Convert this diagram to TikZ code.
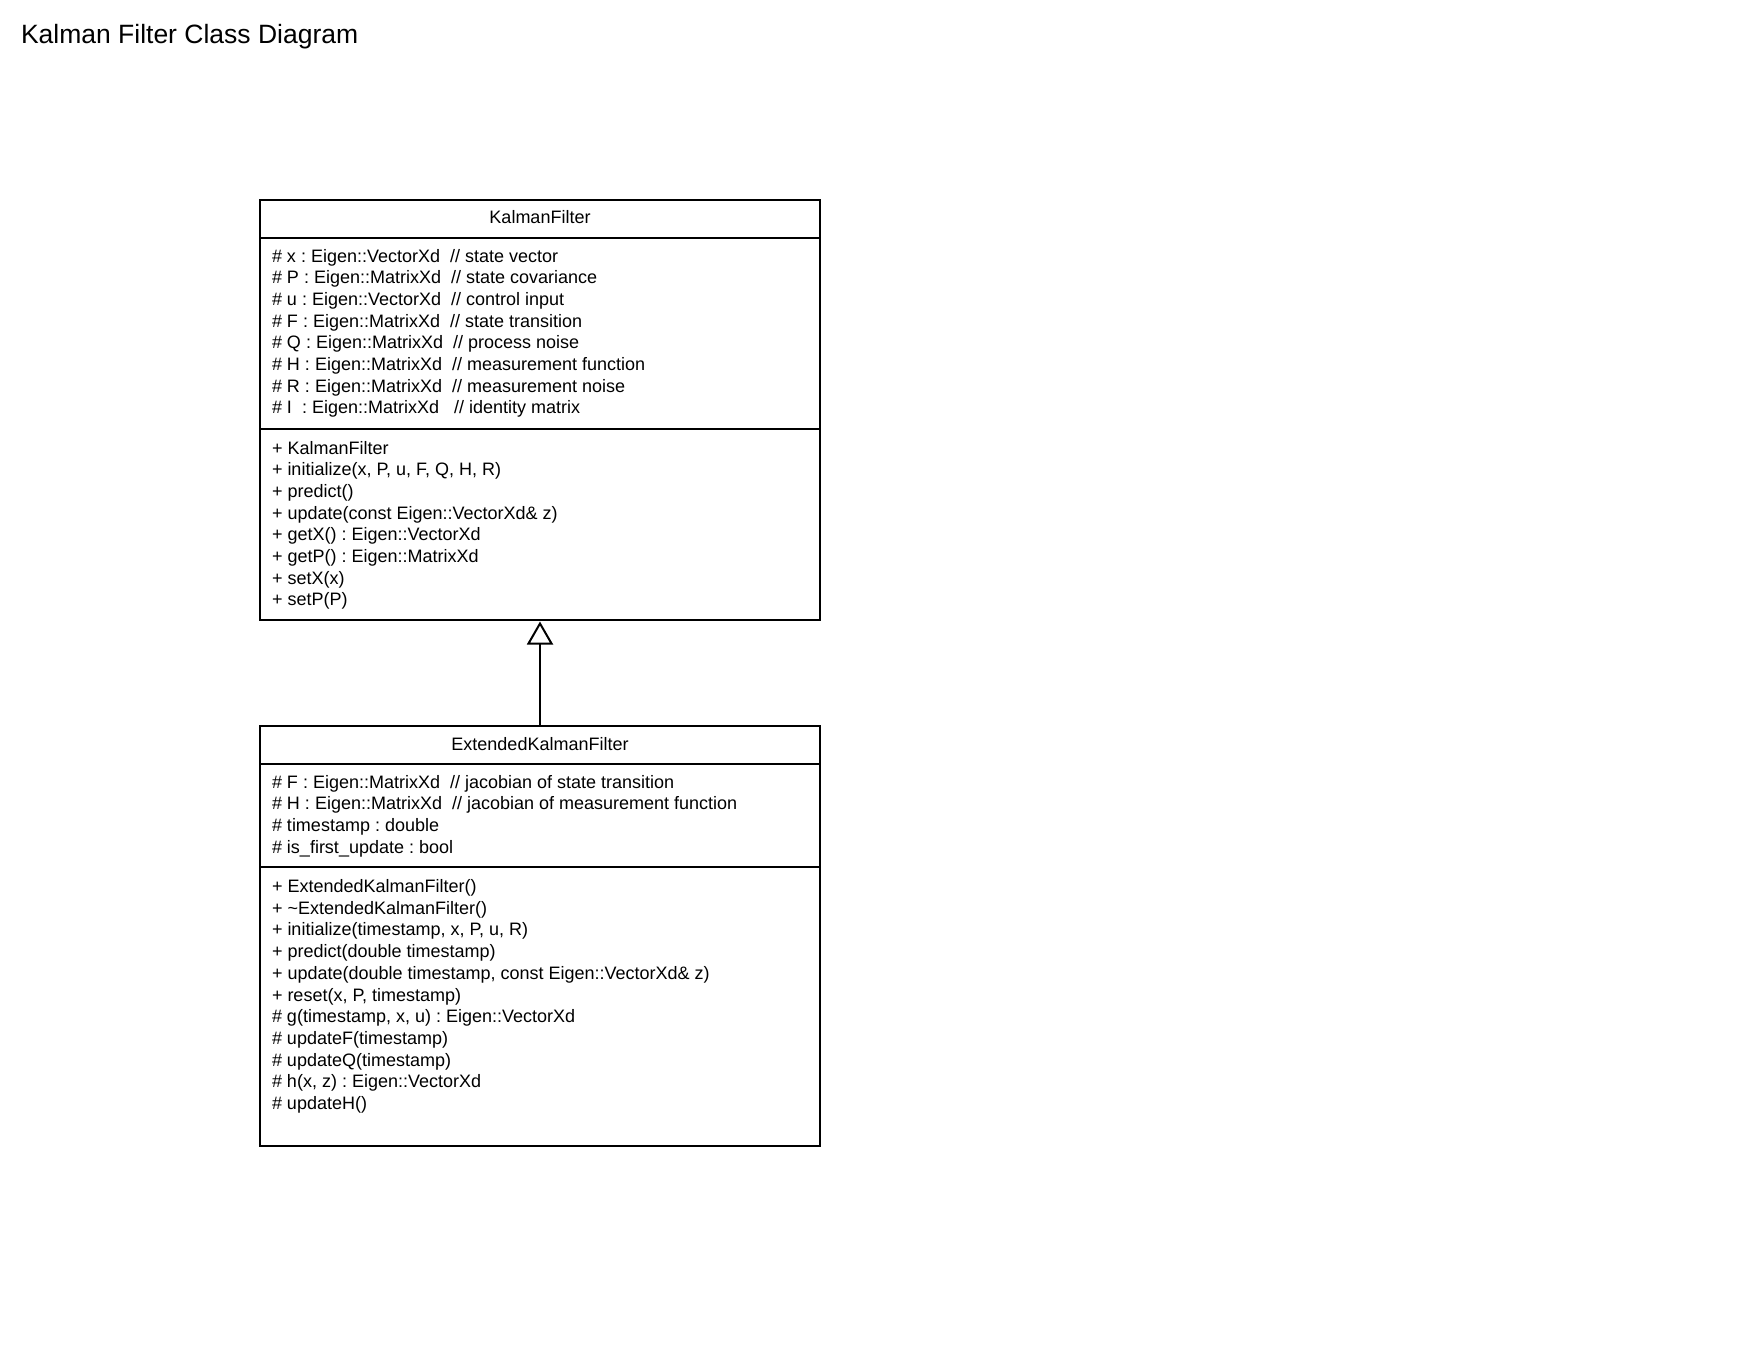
\documentclass[tikz,border=0pt]{standalone}
\usepackage{fontspec}
\setmainfont{Liberation Sans}
\usetikzlibrary{arrows.meta}
\frenchspacing
\begin{document}
\begin{tikzpicture}[x=1pt,y=-1pt,
  compart/.style={draw=black, line width=2pt, fill=white, inner sep=0pt, outer sep=0pt, minimum width=560pt},
  umltext/.style={inner sep=0pt, outer sep=0pt, font=\fontsize{18pt}{21.7pt}\selectfont\frenchspacing},
  titletext/.style={inner sep=0pt, outer sep=0pt, font=\fontsize{26.5pt}{30pt}\selectfont},
  inherit/.style={line width=2pt, -{Triangle[open, width=26pt, length=23pt, line width=2pt]}, shorten >=2pt}
]
\useasboundingbox (0,0) rectangle (1760,1360);
\node[titletext, anchor=base west] (title) at (21,43) {Kalman Filter Class Diagram};

% KalmanFilter
\node[compart, minimum height=38pt] (kfhead) at (540,219) {};
\node[compart, minimum height=191pt] (kfattr) at (540,333.5) {};
\node[compart, minimum height=190.5pt] (kfops) at (540,524.25) {};
\node[umltext, anchor=base] (kfname) at (540,223) {KalmanFilter};
\foreach [count=\i from 0] \t in {
  {\# x : Eigen::VectorXd\ \ // state vector},
  {\# P : Eigen::MatrixXd\ \ // state covariance},
  {\# u : Eigen::VectorXd\ \ // control input},
  {\# F : Eigen::MatrixXd\ \ // state transition},
  {\# Q : Eigen::MatrixXd\ \ // process noise},
  {\# H : Eigen::MatrixXd\ \ // measurement function},
  {\# R : Eigen::MatrixXd\ \ // measurement noise},
  {\# I\ \ : Eigen::MatrixXd\ \ \ // identity matrix}}
  \node[umltext, anchor=base west] (kfa\i) at (272,262+21.7*\i) {\t};
\foreach [count=\i from 0] \t in {
  {+ KalmanFilter},
  {+ initialize(x, P, u, F, Q, H, R)},
  {+ predict()},
  {+ update(const Eigen::VectorXd\& z)},
  {+ getX() : Eigen::VectorXd},
  {+ getP() : Eigen::MatrixXd},
  {+ setX(x)},
  {+ setP(P)}}
  \node[umltext, anchor=base west] (kfm\i) at (272,454+21.7*\i) {\t};

% ExtendedKalmanFilter
\node[compart, minimum height=38pt] (ekfhead) at (540,745) {};
\node[compart, minimum height=103pt] (ekfattr) at (540,815.5) {};
\node[compart, minimum height=279pt] (ekfops) at (540,1006.5) {};
\node[umltext, anchor=base] (ekfname) at (540,750) {ExtendedKalmanFilter};
\foreach [count=\i from 0] \t in {
  {\# F : Eigen::MatrixXd\ \ // jacobian of state transition},
  {\# H : Eigen::MatrixXd\ \ // jacobian of measurement function},
  {\# timestamp : double},
  {\# is\_first\_update : bool}}
  \node[umltext, anchor=base west] (ekfa\i) at (272,788+21.7*\i) {\t};
\foreach [count=\i from 0] \t in {
  {+ ExtendedKalmanFilter()},
  {+ \textasciitilde ExtendedKalmanFilter()},
  {+ initialize(timestamp, x, P, u, R)},
  {+ predict(double timestamp)},
  {+ update(double timestamp, const Eigen::VectorXd\& z)},
  {+ reset(x, P, timestamp)},
  {\# g(timestamp, x, u) : Eigen::VectorXd},
  {\# updateF(timestamp)},
  {\# updateQ(timestamp)},
  {\# h(x, z) : Eigen::VectorXd},
  {\# updateH()}}
  \node[umltext, anchor=base west] (ekfm\i) at (272,892.5+21.7*\i) {\t};

% inheritance
\draw[inherit] (ekfhead.north) -- (kfops.south);
\end{tikzpicture}
\end{document}
